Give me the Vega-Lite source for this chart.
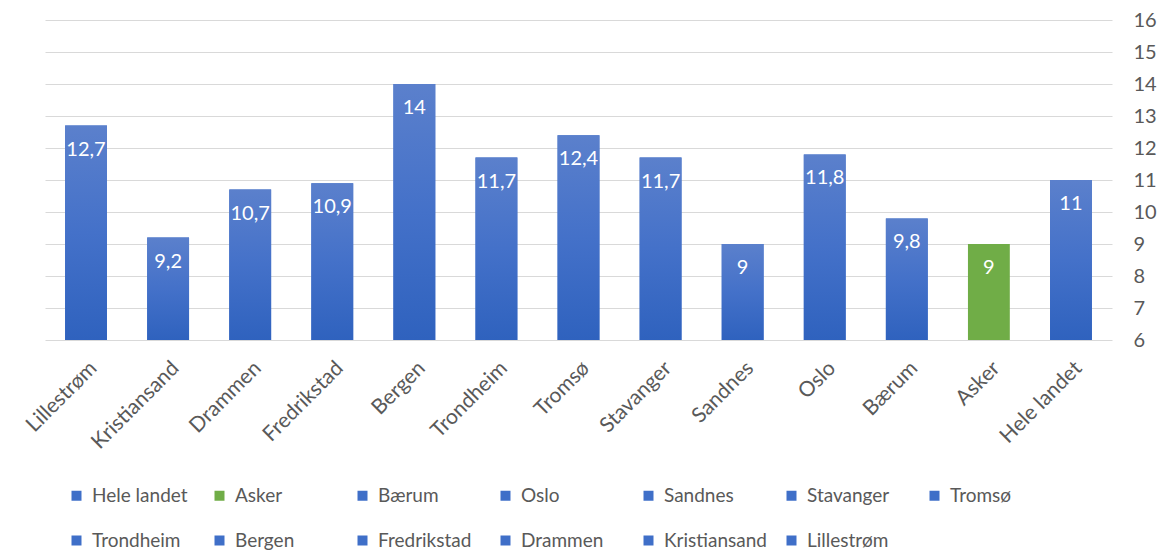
{
  "$schema": "https://vega.github.io/schema/vega-lite/v6.json",
  "width": 1067,
  "height": 320,
  "autosize": "none",
  "padding": {"left": 45, "top": 20, "right": 49, "bottom": 212},
  "config": {
    "locale": {"number": {"decimal": ",", "thousands": " ", "grouping": [3], "currency": ["", " kr"]}},
    "font": "Lato",
    "view": {"stroke": null},
    "axis": {"labelFont": "Lato", "labelColor": "#595959"}
  },
  "data": {
    "values": [
      {"kommune": "Lillestrøm", "verdi": 12.7},
      {"kommune": "Kristiansand", "verdi": 9.2},
      {"kommune": "Drammen", "verdi": 10.7},
      {"kommune": "Fredrikstad", "verdi": 10.9},
      {"kommune": "Bergen", "verdi": 14},
      {"kommune": "Trondheim", "verdi": 11.7},
      {"kommune": "Tromsø", "verdi": 12.4},
      {"kommune": "Stavanger", "verdi": 11.7},
      {"kommune": "Sandnes", "verdi": 9},
      {"kommune": "Oslo", "verdi": 11.8},
      {"kommune": "Bærum", "verdi": 9.8},
      {"kommune": "Asker", "verdi": 9},
      {"kommune": "Hele landet", "verdi": 11}
    ]
  },
  "encoding": {
    "x": {
      "field": "kommune", "type": "nominal", "sort": null,
      "scale": {"paddingInner": 0.49, "paddingOuter": 0.245},
      "axis": {"title": null, "labelAngle": -45, "labelFontSize": 21, "domain": false, "ticks": false, "labelPadding": 17}
    },
    "y": {
      "field": "verdi", "type": "quantitative",
      "scale": {"domain": [6, 16], "zero": false, "nice": false},
      "axis": {"orient": "right", "title": null, "values": [6,7,8,9,10,11,12,13,14,15,16], "labelFontSize": 20, "domain": false, "ticks": false, "gridColor": "#d9d9d9", "labelPadding": 21}
    }
  },
  "layer": [
    {
      "mark": {"type": "bar"},
      "encoding": {
        "y2": {"datum": 6},
        "color": {
          "field": "kommune", "type": "nominal",
          "scale": {
            "domain": ["Hele landet", "Asker", "Bærum", "Oslo", "Sandnes", "Stavanger", "Tromsø", "Trondheim", "Bergen", "Fredrikstad", "Drammen", "Kristiansand", "Lillestrøm"],
            "range": ["#3f6fc8", "#70ad47", "#3f6fc8", "#3f6fc8", "#3f6fc8", "#3f6fc8", "#3f6fc8", "#3f6fc8", "#3f6fc8", "#3f6fc8", "#3f6fc8", "#3f6fc8", "#3f6fc8"]
          },
          "legend": {
            "title": null, "orient": "none", "legendX": 22, "legendY": 466,
            "direction": "horizontal", "columns": 7, "gridAlign": "all",
            "symbolType": "square", "symbolSize": 100, "symbolStrokeWidth": 0,
            "labelFontSize": 19, "labelColor": "#595959", "labelFont": "Lato",
            "columnPadding": 15, "rowPadding": 25, "labelOffset": 6
          }
        }
      }
    },
    {
      "transform": [{"filter": "datum.kommune !== 'Asker'"}],
      "mark": {
        "type": "bar",
        "fill": {
          "gradient": "linear", "x1": 0, "y1": 0, "x2": 0, "y2": 1,
          "stops": [{"offset": 0, "color": "#5b80cc"}, {"offset": 0.5, "color": "#4471c9"}, {"offset": 1, "color": "#2f62be"}]
        }
      },
      "encoding": {"y2": {"datum": 6}}
    },
    {
      "mark": {"type": "text", "color": "white", "fontSize": 20, "baseline": "middle", "dy": 24, "font": "Lato"},
      "encoding": {"text": {"field": "verdi", "type": "quantitative", "format": ".1~f"}}
    }
  ]
}
